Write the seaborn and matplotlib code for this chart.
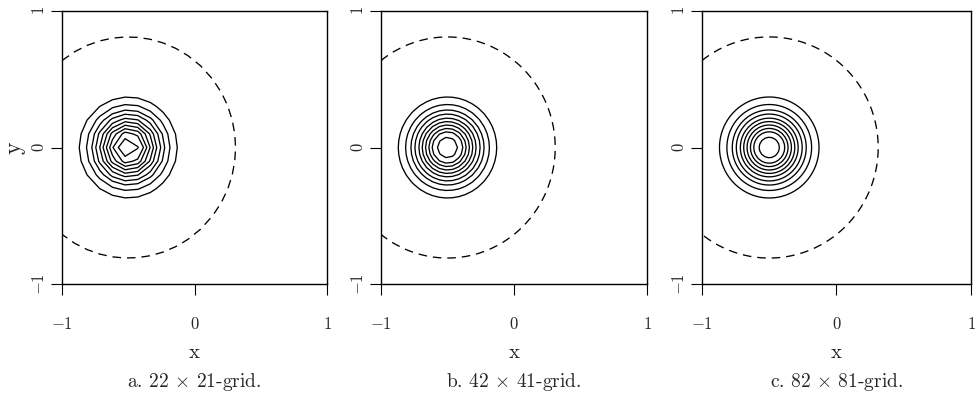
import numpy as np
import seaborn as sns
import matplotlib.pyplot as plt

# grid sizes of the three runs (nx x ny)
grid_nx = [22, 42, 82]
grid_ny = [21, 41, 81]
panel_tags = ["a.", "b.", "c."]

# centre of the bump and contour radii
centre_x = -0.5
centre_y = 0.0
solid_radii = [0.075, 0.115, 0.14, 0.165, 0.19, 0.215, 0.245, 0.275, 0.315, 0.37]
dashed_radius = 0.81

tick_vals = [-1, 0, 1]
tick_text = ["$-1$", "$0$", "$1$"]

sns.set_style("ticks")
plt.rcParams["font.family"] = ["cmr10", "DejaVu Serif"]
plt.rcParams["mathtext.fontset"] = "cm"
plt.rcParams["axes.formatter.use_mathtext"] = True
plt.rcParams["lines.dashed_pattern"] = [6.5, 4.5]

fig = plt.figure(figsize=(9.78, 4.05), dpi=100)

# axes boxes in pixels (left, width)
boxes = [(62, 265), (381, 266), (702, 269)]

for i in range(3):
    left, w = boxes[i]
    ax = fig.add_axes([left / 978, 121 / 405, w / 978, 273 / 405])

    x = np.linspace(-1, 1, grid_nx[i])
    y = np.linspace(-1, 1, grid_ny[i])
    X, Y = np.meshgrid(x, y)
    R = np.hypot(X - centre_x, Y - centre_y)

    ax.contour(X, Y, R, levels=solid_radii, colors="black", linewidths=0.95)
    ax.contour(X, Y, R, levels=[dashed_radius], colors="black",
               linewidths=0.95, linestyles="dashed")

    ax.set_xlim(-1, 1)
    ax.set_ylim(-1, 1)
    ax.set_xticks(tick_vals)
    ax.set_xticklabels(tick_text, fontsize=12)
    ax.set_yticks(tick_vals)
    ax.set_yticklabels(tick_text, fontsize=12, rotation=90, va="center")
    ax.tick_params(axis="both", direction="out", length=8, width=0.8, color="black")
    ax.tick_params(axis="x", pad=15)
    ax.tick_params(axis="y", pad=3)
    for s in ax.spines.values():
        s.set_linewidth(1.0)
        s.set_color("black")

    ax.set_xlabel("x", fontsize=15, labelpad=9)
    if i == 0:
        ax.set_ylabel("y", fontsize=17, labelpad=4)

    cx = (left + w / 2) / 978
    fig.text(cx, 23 / 405, panel_tags[i] + r" %d $\times$ %d-grid." % (grid_nx[i], grid_ny[i]),
             ha="center", va="center", fontsize=14)

plt.savefig("out.png", dpi=100)
